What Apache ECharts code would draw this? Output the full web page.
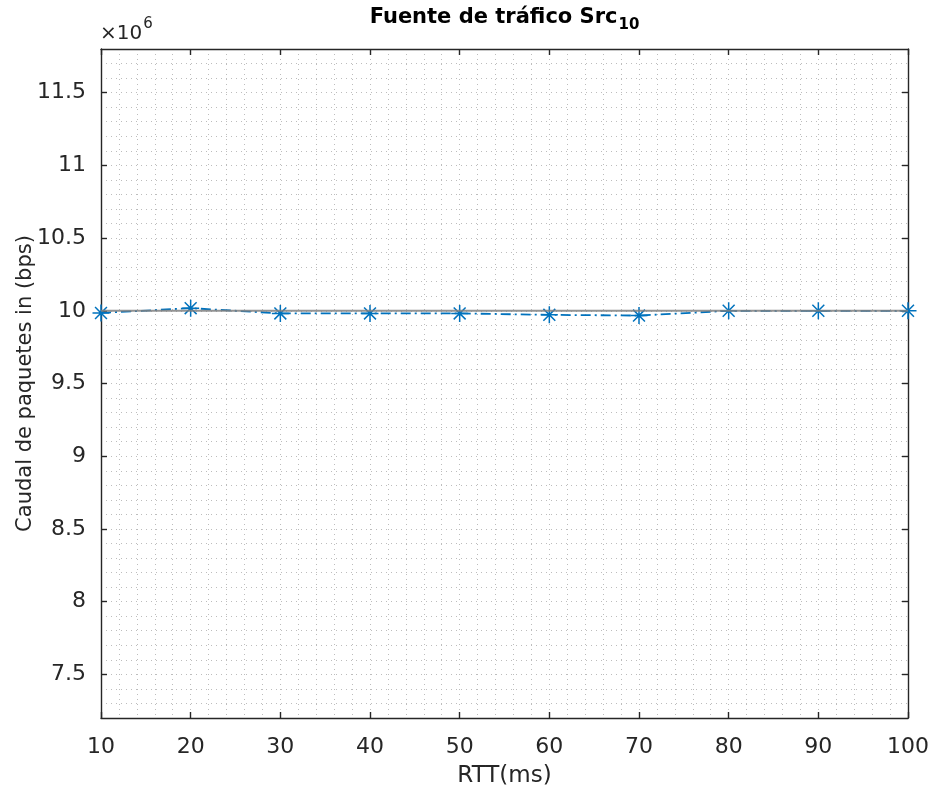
<!DOCTYPE html>
<html>
<head>
<meta charset="utf-8">
<script src="https://cdn.jsdelivr.net/npm/echarts@6/dist/echarts.min.js"></script>
<style>
  html, body { margin: 0; padding: 0; background: #ffffff; }
  #chart { width: 930px; height: 796px; }
</style>
</head>
<body>
<div id="chart"></div>
<script>
// RTT values (ms) and measured packet throughput (bps) for source 10
const rtt = [10, 20, 30, 40, 50, 60, 70, 80, 90, 100];
const caudal = [9.985e6, 10.018e6, 9.982e6, 9.982e6, 9.982e6, 9.972e6, 9.967e6, 10.0e6, 10.0e6, 10.0e6];

// Nominal source rate, drawn as a reference line across the RTT range
const refX = [10, 100];
const refY = [10e6, 10e6];

// Tick labels
const xTicks = [10, 20, 30, 40, 50, 60, 70, 80, 90, 100];
const yTicks = [7.5e6, 8e6, 8.5e6, 9e6, 9.5e6, 10e6, 10.5e6, 11e6, 11.5e6];

const FONT = '"DejaVu Sans", "Liberation Sans", Arial, sans-serif';
const AXIS_COLOR = '#262626';
const GRID_COLOR = '#bdbdbd';
const Y_MIN = 7.2e6, Y_MAX = 11.8e6;

// plot box in pixels
const PLOT = { left: 101, right: 22, top: 49, bottom: 78 };
const plotCenterX = PLOT.left + (930 - PLOT.left - PLOT.right) / 2;

const chart = echarts.init(document.getElementById('chart'), null, { renderer: 'canvas' });

// asterisk marker: vertical, horizontal and two diagonal strokes
const asterisk = 'path://M0,-8L0,8M-8,0L8,0M-5.6,-5.6L5.6,5.6M-5.6,5.6L5.6,-5.6';

const dotted = { color: GRID_COLOR, width: 1, type: [1, 4] };

const option = {
  backgroundColor: '#ffffff',
  animation: false,
  textStyle: { fontFamily: FONT },
  grid: { left: PLOT.left, right: PLOT.right, top: PLOT.top, bottom: PLOT.bottom, containLabel: false, outerBoundsMode: 'none' },
  graphic: [{
    // title, centred over the plot box
    type: 'text',
    x: plotCenterX,
    y: 7,
    style: {
      text: '{a|Fuente de tráfico Src}{b|10}',
      align: 'center',
      verticalAlign: 'top',
      rich: {
        a: { fontFamily: FONT, fontSize: 21, fontWeight: 'bold', fill: '#000', lineHeight: 26, verticalAlign: 'top' },
        b: { fontFamily: FONT, fontSize: 15, fontWeight: 'bold', fill: '#000', lineHeight: 18, verticalAlign: 'top', padding: [11, 0, 0, 1] }
      }
    }
  }, {
    // axis exponent
    type: 'text',
    x: 100,
    y: 17,
    style: {
      text: '{a|×10}{b|6}',
      verticalAlign: 'top',
      rich: {
        a: { fontFamily: FONT, fontSize: 20, fill: AXIS_COLOR, lineHeight: 23, verticalAlign: 'top', padding: [7, 0, 0, 0] },
        b: { fontFamily: FONT, fontSize: 15, fill: AXIS_COLOR, lineHeight: 16, verticalAlign: 'top', padding: [0, 0, 0, 1] }
      }
    }
  }],
  xAxis: [{
    type: 'value',
    position: 'bottom',
    min: xTicks[0],
    max: xTicks[xTicks.length - 1],
    interval: 10,
    name: 'RTT(ms)',
    nameLocation: 'middle',
    nameGap: 47,
    nameTextStyle: { fontFamily: FONT, fontSize: 23, color: AXIS_COLOR },
    axisLine: { show: true, onZero: false, lineStyle: { color: AXIS_COLOR, width: 1.4 } },
    axisTick: { show: true, inside: true, length: 6, lineStyle: { color: AXIS_COLOR, width: 1.4 } },
    axisLabel: { fontFamily: FONT, fontSize: 22, color: AXIS_COLOR, margin: 18, formatter: v => String(v) },
    splitLine: { show: true, lineStyle: dotted },
    minorTick: { show: false, splitNumber: 5 },
    minorSplitLine: { show: true, lineStyle: dotted }
  }, {
    type: 'value',
    position: 'top',
    min: xTicks[0],
    max: xTicks[xTicks.length - 1],
    interval: 10,
    axisLine: { show: true, onZero: false, lineStyle: { color: AXIS_COLOR, width: 1.4 } },
    axisTick: { show: true, inside: true, length: 6, lineStyle: { color: AXIS_COLOR, width: 1.4 } },
    axisLabel: { show: false },
    splitLine: { show: false }
  }],
  yAxis: [{
    // frame line and the 0.1e6 dotted grid
    type: 'value',
    position: 'left',
    min: Y_MIN,
    max: Y_MAX,
    interval: 1e5,
    name: 'Caudal de paquetes in (bps)',
    nameLocation: 'middle',
    nameGap: 65,
    nameTextStyle: { fontFamily: FONT, fontSize: 21, color: AXIS_COLOR },
    axisLine: { show: true, onZero: false, lineStyle: { color: AXIS_COLOR, width: 1.4 } },
    axisTick: { show: false },
    axisLabel: { show: false },
    splitLine: { show: true, lineStyle: dotted }
  }, {
    // major ticks and labels every 0.5e6
    type: 'value',
    position: 'left',
    min: Y_MIN,
    max: Y_MAX,
    axisLine: { show: false },
    axisTick: { show: true, inside: true, length: 6, customValues: yTicks, lineStyle: { color: AXIS_COLOR, width: 1.4 } },
    axisLabel: { show: true, customValues: yTicks, fontFamily: FONT, fontSize: 22, color: AXIS_COLOR, margin: 15,
      formatter: v => String(Math.round(v / 1e5) / 10) },
    splitLine: { show: false }
  }, {
    type: 'value',
    position: 'right',
    min: Y_MIN,
    max: Y_MAX,
    axisLine: { show: true, onZero: false, lineStyle: { color: AXIS_COLOR, width: 1.4 } },
    axisTick: { show: true, inside: true, length: 6, customValues: yTicks, lineStyle: { color: AXIS_COLOR, width: 1.4 } },
    axisLabel: { show: false },
    splitLine: { show: false }
  }],
  series: [{
    name: 'Src10',
    type: 'line',
    xAxisIndex: 0,
    yAxisIndex: 0,
    data: rtt.map((x, i) => [x, caudal[i]]),
    symbol: asterisk,
    symbolSize: 17,
    showSymbol: true,
    itemStyle: { color: '#0072BD', borderColor: '#0072BD', borderWidth: 1.5 },
    lineStyle: { color: '#0072BD', width: 1.8, type: [10, 4, 2, 4] },
    z: 3
  }, {
    name: 'ref',
    type: 'line',
    xAxisIndex: 0,
    yAxisIndex: 0,
    data: refX.map((x, i) => [x, refY[i]]),
    showSymbol: false,
    symbol: 'none',
    lineStyle: { color: 'rgba(128,128,128,0.85)', width: 2 },
    z: 4
  }]
};

chart.setOption(option);
</script>
</body>
</html>
